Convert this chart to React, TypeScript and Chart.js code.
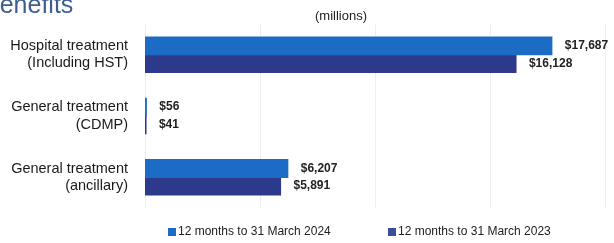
import React, { useEffect, useRef } from "react";
import { Chart, registerables } from "chart.js";

Chart.register(...registerables);

const categories: string[][] = [
  ["Hospital treatment", "(Including HST)"],
  ["General treatment", "(CDMP)"],
  ["General treatment", "(ancillary)"],
];
const series2024: number[] = [17687, 56, 6207];
const series2023: number[] = [16128, 41, 5891];
const seriesLabels: string[] = ["12 months to 31 March 2024", "12 months to 31 March 2023"];
const xMax = 20000;
const xStep = 5000;
const unitLabel = "(millions)";
const titleText = "Benefits";

const COLOR_2024 = "#1c6cc5";
const COLOR_2023 = "#2d3a8c";
const FONT = "'Liberation Sans', Arial, sans-serif";

const fmt = (v: number) => "$" + v.toLocaleString("en-US");

const extrasPlugin = {
  id: "extras",
  afterDatasetsDraw(chart: any) {
    const ctx = chart.ctx;
    ctx.save();
    // value labels
    ctx.font = `bold 12px ${FONT}`;
    ctx.fillStyle = "#222";
    ctx.textAlign = "left";
    ctx.textBaseline = "middle";
    chart.data.datasets.forEach((ds: any, di: number) => {
      const meta = chart.getDatasetMeta(di);
      meta.data.forEach((bar: any, i: number) => {
        ctx.fillText(fmt(ds.data[i]), bar.x + 13, bar.y);
      });
    });
    // unit label
    ctx.font = `13px ${FONT}`;
    ctx.textAlign = "center";
    ctx.fillText(unitLabel, 341, 16);
    // title (partially cut)
    ctx.font = `25px ${FONT}`;
    ctx.fillStyle = "#3f5f8f";
    ctx.textAlign = "left";
    ctx.textBaseline = "alphabetic";
    ctx.fillText(titleText, -17, 13);
    // legend
    const items = [
      { x: 168, color: COLOR_2024, label: seriesLabels[0] },
      { x: 388, color: "#3c4e96", label: seriesLabels[1] },
    ];
    ctx.font = `12px ${FONT}`;
    ctx.textBaseline = "middle";
    items.forEach((it) => {
      ctx.fillStyle = it.color;
      ctx.fillRect(it.x, 228, 8, 8);
      ctx.fillStyle = "#222";
      ctx.fillText(it.label, it.x + 10, 232);
    });
    ctx.restore();
  },
};

export default function App() {
  const ref = useRef<HTMLCanvasElement>(null);
  useEffect(() => {
    if (!ref.current) return;
    const chart = new Chart(ref.current, {
      type: "bar",
      data: {
        labels: categories,
        datasets: [
          {
            label: seriesLabels[0],
            data: series2024,
            backgroundColor: COLOR_2024,
            categoryPercentage: 0.575,
            barPercentage: 1,
            inflateAmount: 0.6,
          },
          {
            label: seriesLabels[1],
            data: series2023,
            backgroundColor: COLOR_2023,
            categoryPercentage: 0.575,
            barPercentage: 1,
            inflateAmount: 0.6,
          },
        ],
      },
      options: {
        indexAxis: "y",
        animation: false,
        responsive: false,
        layout: { padding: { left: 0, right: 9, top: 24, bottom: 35 } },
        plugins: { legend: { display: false }, tooltip: { enabled: false } },
        scales: {
          x: {
            min: 0,
            max: xMax,
            ticks: { display: false, stepSize: xStep },
            grid: { color: "#eeeeee", drawTicks: false, lineWidth: 1 },
            border: { display: false },
            afterFit: (s: any) => {
              s.height = 0;
              s.paddingLeft = 0;
              s.paddingRight = 0;
            },
          },
          y: {
            ticks: {
              color: "#1a1a1a",
              font: { family: FONT, size: 14.5 },
              padding: 17,
            },
            grid: { display: false, drawTicks: false },
            border: { display: false },
            afterFit: (s: any) => {
              s.width = 145;
              s.paddingTop = 0;
              s.paddingBottom = 0;
            },
          },
        },
      },
      plugins: [extrasPlugin],
    } as any);
    return () => chart.destroy();
  }, []);
  return (
    <div style={{ position: "absolute", left: 0, top: 0, width: 614, height: 243, background: "#fff" }}>
      <canvas ref={ref} width={614} height={243} />
    </div>
  );
}
